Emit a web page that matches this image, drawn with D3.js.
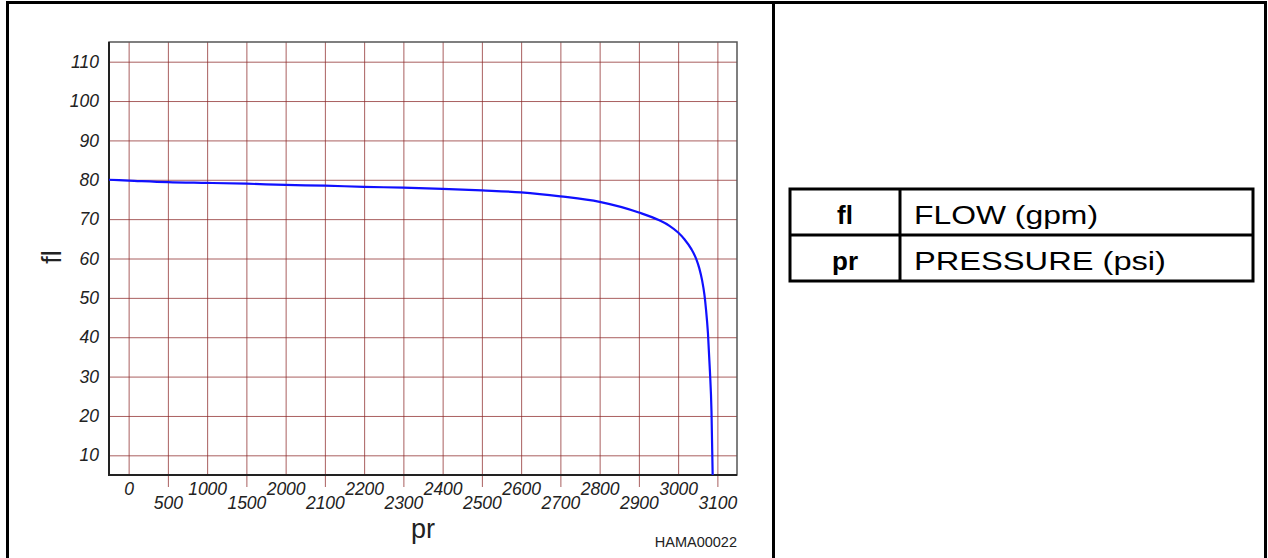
<!DOCTYPE html>
<html lang="en">
<head>
<meta charset="utf-8">
<title>Flow vs pressure</title>
<script src="https://cdn.jsdelivr.net/npm/d3@7"></script>
<style>
    body { margin: 0; background: #fff; }
    svg text { font-family: "Liberation Sans", Arial, sans-serif; fill: #222; }
    .tick text { font-style: italic; font-size: 17.5px; }
</style>
</head>
<body>
<script>
    // tick labels on the pressure axis (evenly spaced, not linear)
    var xTicks = [0, 500, 1000, 1500, 2000, 2100, 2200, 2300, 2400, 2500, 2600, 2700, 2800, 2900, 3000, 3100];
    var yTicks = [10, 20, 30, 40, 50, 60, 70, 80, 90, 100, 110];

    // curve
    var pressure = [-250, 0, 500, 1000, 1500, 2000, 2100, 2200, 2300, 2400, 2500, 2600, 2700, 2800, 2900,
                    2952, 2978, 3000, 3016, 3033, 3046, 3054, 3061, 3067, 3071, 3076, 3081, 3085, 3088];
    var flow = [80, 79.8, 79.4, 79.2, 79.0, 78.7, 78.5, 78.2, 78.0, 77.7, 77.3, 76.8, 75.8, 74.4, 71.7,
                69.7, 68.3, 66.6, 64.9, 62.5, 59.9, 57.5, 54.5, 50.8, 47.1, 41.0, 31.4, 21.2, 5.0];

    var legendKeys = ["fl", "pr"];
    var legendNames = ["FLOW (gpm)", "PRESSURE (psi)"];

    var w = 1268, h = 558;
    var plot = {left: 109, top: 42, right: 737, bottom: 475};

    var svg = d3.select("body").append("svg")
        .attr("width", w)
        .attr("height", h);

    // outer frame and panel divider
    svg.append("rect")
        .attr("x", 7.5).attr("y", 2.5)
        .attr("width", 1258).attr("height", 580)
        .attr("fill", "none").attr("stroke", "#000").attr("stroke-width", 3);
    svg.append("line")
        .attr("x1", 773.5).attr("x2", 773.5).attr("y1", 2).attr("y2", h)
        .attr("stroke", "#000").attr("stroke-width", 3);

    var xPoint = d3.scalePoint()
        .domain(xTicks)
        .range([plot.left, plot.right])
        .padding(0.5);

    // piecewise mapping of pressure values onto the uneven axis
    var xScale = d3.scaleLinear()
        .domain(xTicks)
        .range(xTicks.map(function(d) { return xPoint(d); }));

    var yScale = d3.scaleLinear()
        .domain([5, 115])
        .range([plot.bottom, plot.top]);

    var gridColor = "#8c2a2a";

    // horizontal grid + y labels
    var yAxis = d3.axisLeft(yScale)
        .tickValues(yTicks)
        .tickSize(-(plot.right - plot.left))
        .tickPadding(10);

    var yg = svg.append("g")
        .attr("transform", "translate(" + plot.left + ",0)")
        .call(yAxis);
    yg.select(".domain").remove();
    yg.selectAll(".tick line").attr("stroke", gridColor).attr("stroke-opacity", 0.75);

    // vertical grid + staggered x labels
    var xAxis = d3.axisBottom(xPoint).tickSize(0).tickPadding(0);
    var xg = svg.append("g")
        .attr("transform", "translate(0," + plot.bottom + ")")
        .call(xAxis);
    xg.select(".domain").remove();
    xg.selectAll(".tick line")
        .attr("stroke", gridColor)
        .attr("stroke-opacity", 0.75)
        .attr("y1", function(d, i) { return i % 2 ? 12 : 0; })
        .attr("y2", -(plot.bottom - plot.top));
    xg.selectAll(".tick text")
        .attr("dy", null)
        .attr("y", function(d, i) { return i % 2 ? 34 : 19.5; });

    // plot frame
    svg.append("rect")
        .attr("x", plot.left).attr("y", plot.top)
        .attr("width", plot.right - plot.left).attr("height", plot.bottom - plot.top)
        .attr("fill", "none").attr("stroke", "#555").attr("stroke-width", 1.5);
    svg.append("path")
        .attr("d", "M" + plot.left + "," + plot.top + "V" + plot.bottom + "H" + plot.right)
        .attr("fill", "none").attr("stroke", "#222").attr("stroke-width", 2);

    // curve
    var line = d3.line()
        .x(function(d, i) { return xScale(pressure[i]); })
        .y(function(d) { return yScale(d); })
        .curve(d3.curveMonotoneX);

    svg.append("path")
        .attr("d", line(flow))
        .attr("fill", "none")
        .attr("stroke", "#1010ff")
        .attr("stroke-width", 2.2);

    // axis titles
    svg.append("text")
        .attr("transform", "translate(61,257) rotate(-90)")
        .attr("text-anchor", "middle")
        .attr("font-size", "27px")
        .text("fl");
    svg.append("text")
        .attr("x", 423).attr("y", 538)
        .attr("text-anchor", "middle")
        .attr("font-size", "27px")
        .text("pr");
    svg.append("text")
        .attr("x", 737).attr("y", 547)
        .attr("text-anchor", "end")
        .attr("font-size", "14.5px")
        .text("HAMA00022");

    // legend table
    var tbl = {left: 790, right: 1253, top: 189, rowH: 46, split: 900};
    var lg = svg.append("g");
    lg.append("rect")
        .attr("x", tbl.left).attr("y", tbl.top)
        .attr("width", tbl.right - tbl.left).attr("height", tbl.rowH * legendKeys.length)
        .attr("fill", "none").attr("stroke", "#000").attr("stroke-width", 3);
    lg.append("line")
        .attr("x1", tbl.split).attr("x2", tbl.split)
        .attr("y1", tbl.top).attr("y2", tbl.top + tbl.rowH * legendKeys.length)
        .attr("stroke", "#000").attr("stroke-width", 3);
    lg.selectAll("line.row")
        .data(legendKeys.slice(1))
        .enter().append("line")
        .attr("class", "row")
        .attr("x1", tbl.left).attr("x2", tbl.right)
        .attr("y1", function(d, i) { return tbl.top + tbl.rowH * (i + 1); })
        .attr("y2", function(d, i) { return tbl.top + tbl.rowH * (i + 1); })
        .attr("stroke", "#000").attr("stroke-width", 3);

    lg.selectAll("text.key")
        .data(legendKeys)
        .enter().append("text")
        .attr("class", "key")
        .attr("x", (tbl.left + tbl.split) / 2)
        .attr("y", function(d, i) { return tbl.top + 34.5 + tbl.rowH * i; })
        .attr("text-anchor", "middle")
        .attr("font-size", "26px")
        .attr("font-weight", "bold")
        .style("fill", "#000")
        .text(function(d) { return d; });

    lg.selectAll("text.name")
        .data(legendNames)
        .enter().append("text")
        .attr("class", "name")
        .attr("x", tbl.split + 14)
        .attr("y", function(d, i) { return tbl.top + 34.5 + tbl.rowH * i; })
        .attr("font-size", "26px")
        .attr("textLength", function(d, i) { return i ? 252 : 184; })
        .attr("lengthAdjust", "spacingAndGlyphs")
        .style("fill", "#000")
        .text(function(d) { return d; });
</script>
</body>
</html>
